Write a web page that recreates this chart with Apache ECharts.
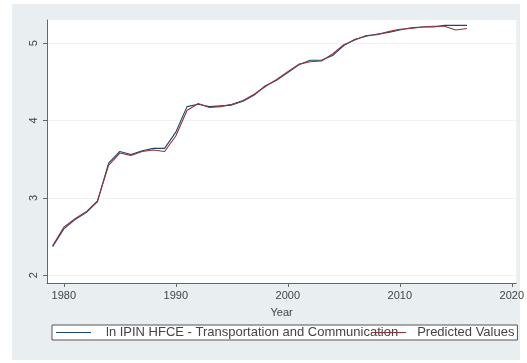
<!DOCTYPE html>
<html>
<head>
<meta charset="utf-8">
<script src="https://cdn.jsdelivr.net/npm/echarts@6/dist/echarts.min.js"></script>
<style>
html,body{margin:0;padding:0;background:#fff;}
#c{width:527px;height:363px;}
</style>
</head>
<body>
<div id="c"></div>
<script>
var years = [1979,1980,1981,1982,1983,1984,1985,1986,1987,1988,1989,1990,1991,1992,1993,1994,1995,1996,1997,1998,1999,2000,2001,2002,2003,2004,2005,2006,2007,2008,2009,2010,2011,2012,2013,2014,2015,2016];
var actual = [2.37,2.60,2.72,2.81,2.95,3.45,3.60,3.56,3.61,3.64,3.64,3.85,4.18,4.21,4.18,4.19,4.20,4.25,4.33,4.45,4.52,4.62,4.72,4.78,4.78,4.84,4.97,5.05,5.09,5.12,5.14,5.17,5.20,5.21,5.21,5.23,5.23,5.23];
var predicted = [2.38,2.62,2.73,2.82,2.96,3.42,3.58,3.55,3.60,3.62,3.60,3.80,4.13,4.22,4.17,4.18,4.21,4.26,4.34,4.44,4.53,4.63,4.73,4.76,4.77,4.86,4.98,5.04,5.10,5.11,5.15,5.18,5.19,5.21,5.22,5.22,5.17,5.19];
var xTicks = [1980,1990,2000,2010,2020];
var yTicks = [2,3,4,5];
var seriesNames = ['ln IPIN HFCE - Transportation and Communication','Predicted Values'];

function pairs(xs, ys){ return xs.map(function(x,i){ return [x, ys[i]]; }); }

var chart = echarts.init(document.getElementById('c'), null, {renderer:'canvas'});
var font = 'Liberation Sans, Arial, sans-serif';
chart.setOption({
  backgroundColor:'#ffffff',
  animation:false,
  graphic:[{type:'rect', shape:{x:12,y:4,width:508,height:356}, style:{fill:'#e9eff1'}, z:-10, silent:true}],
  grid:{left:47, right:10.5, top:20, bottom:80, show:true, backgroundColor:'#ffffff', borderWidth:0},
  xAxis:{
    type:'value', min:1978.5, max:2020.4,
    name:'Year', nameLocation:'middle', nameGap:24,
    nameTextStyle:{fontFamily:font, fontSize:11, color:'#444'},
    axisLine:{show:true, lineStyle:{color:'#666', width:1}},
    axisTick:{show:true, length:4, lineStyle:{color:'#666'}, customValues:xTicks},
    axisLabel:{fontFamily:font, fontSize:11, color:'#444', margin:7, customValues:xTicks,
      formatter:function(v){ return String(v); }},
    splitLine:{show:false}
  },
  yAxis:{
    type:'value', min:1.9, max:5.3,
    axisLine:{show:true, lineStyle:{color:'#666', width:1}},
    axisTick:{show:true, length:4, lineStyle:{color:'#666'}, customValues:yTicks},
    axisLabel:{fontFamily:font, fontSize:11, color:'#444', rotate:90, margin:8, customValues:yTicks,
      formatter:function(v){ return String(v); }},
    splitLine:{show:true, lineStyle:{color:'#eef2f4', width:1}}
  },
  legend:{
    left:52, top:325, orient:'horizontal',
    data:[
      {name:seriesNames[0], textStyle:{padding:[0,0,0,10]}},
      {name:seriesNames[1], textStyle:{padding:[0,0,0,6]}}
    ],
    itemWidth:35, itemHeight:10, itemGap:-27,
    padding:[1,3,1,4],
    borderColor:'#555', borderWidth:1, backgroundColor:'#ffffff',
    icon:'path://M0,5L35,5L35,6L0,6Z',
    textStyle:{fontFamily:font, fontSize:13, color:'#444'}
  },
  series:[
    {name:seriesNames[0], type:'line', data:pairs(years, actual), showSymbol:false, symbol:'none',
     lineStyle:{color:'#1a476f', width:1.1}, itemStyle:{color:'#1a476f'}},
    {name:seriesNames[1], type:'line', data:pairs(years, predicted), showSymbol:false, symbol:'none',
     lineStyle:{color:'#90353b', width:1.1}, itemStyle:{color:'#90353b'}}
  ]
});
</script>
</body>
</html>
